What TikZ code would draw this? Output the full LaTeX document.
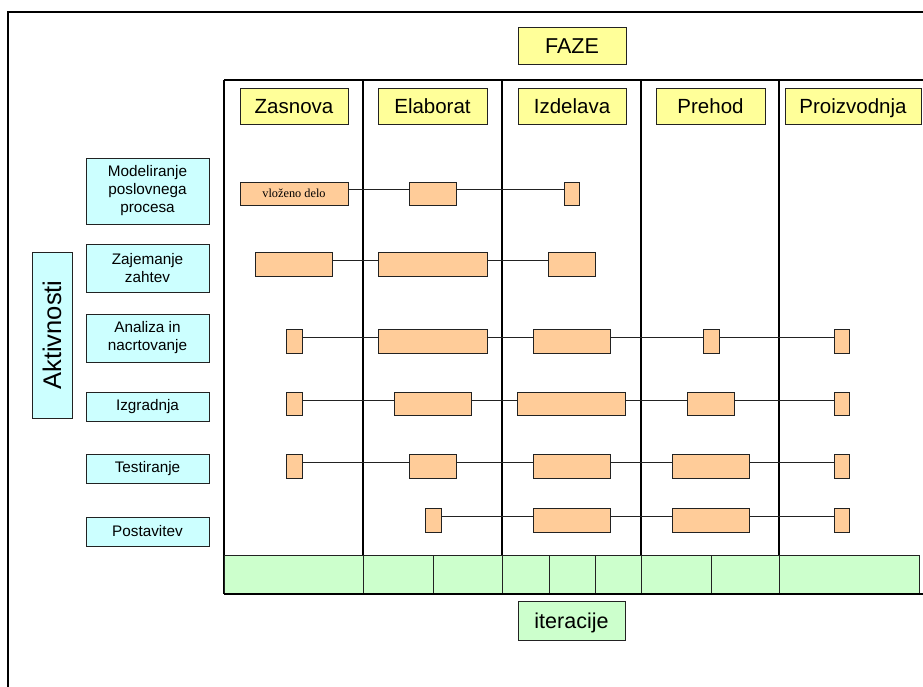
\documentclass[tikz,border=0pt]{standalone}
\usepackage{fontspec}
\setmainfont{Liberation Sans}
\newfontfamily\barserif{Liberation Serif}
\definecolor{phasefill}{HTML}{FFFF99}
\definecolor{actfill}{HTML}{CCFFFF}
\definecolor{barfill}{HTML}{FFCC99}
\definecolor{iterfill}{HTML}{CCFFCC}
\definecolor{edge}{HTML}{222222}
% box from corner (#3,#4) to corner (#5,#6), pixel-like units
\newcommand\boxfromto[7]{%
  \node[#2, anchor=north west, minimum width={(#5-#3)*1pt},
        minimum height={(#6-#4)*1pt}] (#1) at (#3,#4) {#7};}
\begin{document}
\begin{tikzpicture}[x=1pt,y=-1pt,
  every node/.style={inner sep=0pt, outer sep=0pt},
  labelbox/.style={draw=edge, line width=0.9pt, fill=phasefill,
    font=\fontsize{20.5}{23}\selectfont, text height=14.5pt, text depth=0pt},
  titlebox/.style={labelbox, font=\fontsize{21.5}{24}\selectfont,
    text height=15.3pt, text depth=0pt},
  actbox/.style={draw=edge, line width=0.9pt, fill=actfill, align=center,
    font=\fontsize{15.3}{18}\selectfont},
  barbox/.style={draw=edge, line width=0.9pt, fill=barfill},
  itercell/.style={draw=edge, line width=0.9pt, fill=iterfill},
  gridline/.style={line width=1.2pt, draw=black},
  link/.style={line width=1pt, draw=edge}]
\useasboundingbox (0,0) rectangle (923,687);
\fill[white] (0,0) rectangle (923,687);

% outer frame (runs past the page on the right and bottom)
\draw[line width=2pt] (8,700) -- (8,12) -- (940,12);

% phase grid
\draw[gridline] (224,80) -- (940,80);
\foreach \x in {224,363,502,641,779}
  \draw[gridline] (\x,80) -- (\x,594);

% iteration cells
\boxfromto{it1}{itercell}{224}{555}{363}{594}{}
\boxfromto{it2}{itercell}{363}{555}{433}{594}{}
\boxfromto{it3}{itercell}{433}{555}{502}{594}{}
\boxfromto{it4}{itercell}{502}{555}{549}{594}{}
\boxfromto{it5}{itercell}{549}{555}{595}{594}{}
\boxfromto{it6}{itercell}{595}{555}{641}{594}{}
\boxfromto{it7}{itercell}{641}{555}{711}{594}{}
\boxfromto{it8}{itercell}{711}{555}{779}{594}{}
\boxfromto{it9}{itercell}{779}{555}{919}{594}{}
\draw[gridline] (224,594) -- (940,594);

% titles
\boxfromto{faze}{titlebox}{518}{27}{626}{64}{FAZE}
\boxfromto{iter}{titlebox, fill=iterfill}{518}{601}{625}{640}{iteracije}
\node[draw=edge, line width=0.9pt, fill=actfill, rotate=90,
      minimum width=166pt, minimum height=40pt,
      font=\fontsize{25.5}{28}\selectfont] (akt) at (52,335) {Aktivnosti};

% phases
\boxfromto{p1}{labelbox}{240}{88}{348}{124}{Zasnova}
\boxfromto{p2}{labelbox}{378}{88}{487}{124}{Elaborat}
\boxfromto{p3}{labelbox}{518}{88}{626}{124}{Izdelava}
\boxfromto{p4}{labelbox}{656}{88}{765}{124}{Prehod}
\boxfromto{p5}{labelbox}{785}{88}{921}{124}{Proizvodnja}

% activities
\boxfromto{a1}{actbox}{86}{158}{209}{224}{Modeliranje\\poslovnega\\procesa}
\boxfromto{a2}{actbox}{86}{244}{209}{292}{Zajemanje\\zahtev}
\boxfromto{a3}{actbox}{86}{314}{209}{362}{Analiza in\\nacrtovanje}
\boxfromto{a4}{actbox}{86}{392}{209}{421}{Izgradnja}
\boxfromto{a5}{actbox}{86}{454}{209}{483}{Testiranje}
\boxfromto{a6}{actbox}{86}{517}{209}{546}{Postavitev}

% workload bars
\boxfromto{b11}{barbox, font=\barserif\fontsize{12.3}{14}\selectfont}{240}{182}{348}{205}{vloženo delo}
\boxfromto{b12}{barbox}{409}{182}{456}{205}{}
\boxfromto{b13}{barbox}{564}{182}{579}{205}{}

\boxfromto{b21}{barbox}{255}{252}{332}{276}{}
\boxfromto{b22}{barbox}{378}{252}{487}{276}{}
\boxfromto{b23}{barbox}{548}{252}{595}{276}{}

\boxfromto{b31}{barbox}{286}{329}{302}{353}{}
\boxfromto{b32}{barbox}{378}{329}{487}{353}{}
\boxfromto{b33}{barbox}{533}{329}{610}{353}{}
\boxfromto{b34}{barbox}{703}{329}{719}{353}{}
\boxfromto{b35}{barbox}{834}{329}{849}{353}{}

\boxfromto{b41}{barbox}{286}{392}{302}{415}{}
\boxfromto{b42}{barbox}{394}{392}{471}{415}{}
\boxfromto{b43}{barbox}{517}{392}{625}{415}{}
\boxfromto{b44}{barbox}{687}{392}{734}{415}{}
\boxfromto{b45}{barbox}{834}{392}{849}{415}{}

\boxfromto{b51}{barbox}{286}{454}{302}{478}{}
\boxfromto{b52}{barbox}{409}{454}{456}{478}{}
\boxfromto{b53}{barbox}{533}{454}{610}{478}{}
\boxfromto{b54}{barbox}{672}{454}{749}{478}{}
\boxfromto{b55}{barbox}{834}{454}{849}{478}{}

\boxfromto{b61}{barbox}{425}{508}{441}{532}{}
\boxfromto{b62}{barbox}{533}{508}{610}{532}{}
\boxfromto{b63}{barbox}{672}{508}{749}{532}{}
\boxfromto{b64}{barbox}{834}{508}{849}{532}{}

% links between consecutive bars of an activity
\foreach \a/\b in {b11/b12,b12/b13,b21/b22,b22/b23,
                   b31/b32,b32/b33,b33/b34,b34/b35,
                   b41/b42,b42/b43,b43/b44,b44/b45,
                   b51/b52,b52/b53,b53/b54,b54/b55,
                   b61/b62,b62/b63,b63/b64}
  \draw[link] ([yshift=3.5pt]\a.east) -- ([yshift=3.5pt]\b.west);
\end{tikzpicture}
\end{document}
